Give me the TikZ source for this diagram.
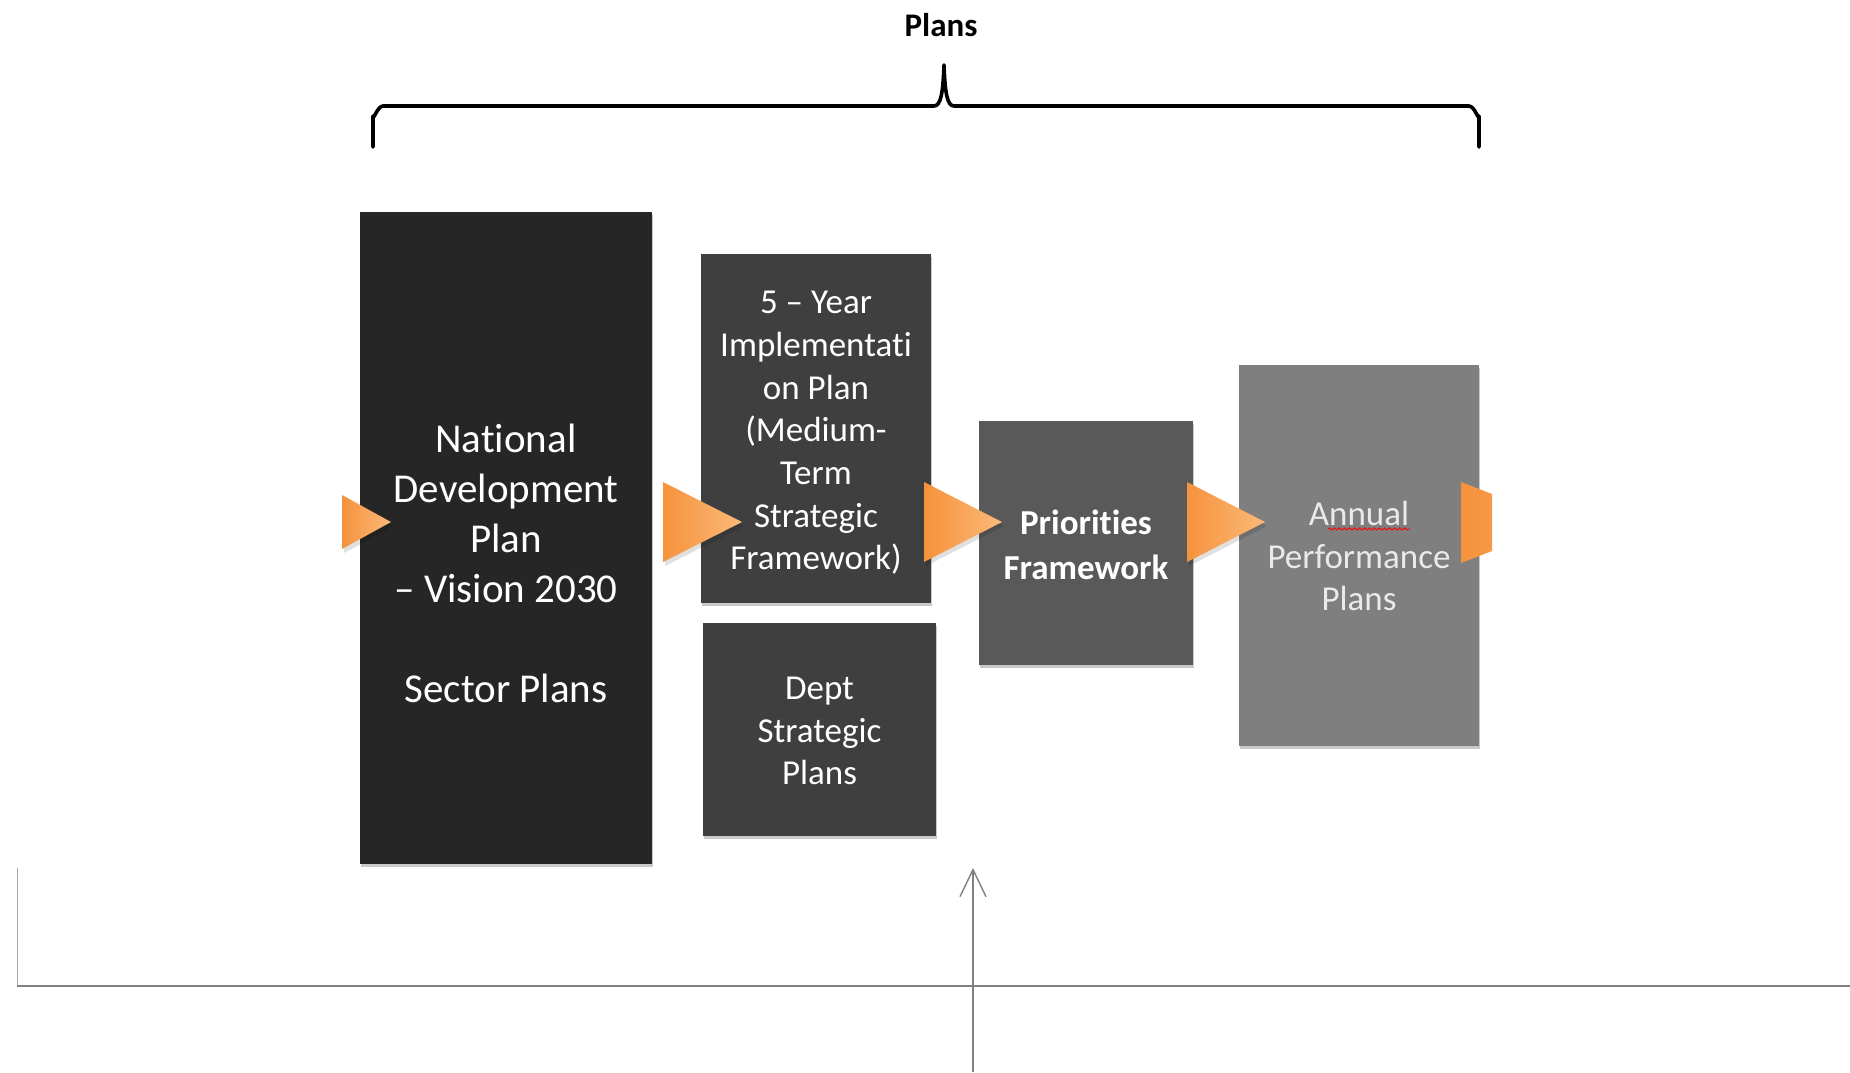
\documentclass[tikz,border=0pt]{standalone}
\usepackage{fontspec}
\setmainfont{Carlito}[Ligatures=NoCommon,RawFeature=-liga]
\usetikzlibrary{arrows.meta,shadows,decorations.pathmorphing}
\definecolor{ndpc}{HTML}{262626}
\definecolor{midc}{HTML}{3F3F3F}
\definecolor{prioc}{HTML}{595959}
\definecolor{annc}{HTML}{7F7F7F}
\definecolor{orA}{RGB}{246,146,60}
\definecolor{orB}{RGB}{251,186,122}
\definecolor{linec}{HTML}{808080}
\definecolor{lighttxt}{HTML}{EAEAEA}
\begin{document}
\begin{tikzpicture}[x=1pt,y=-1pt,
  box/.style={draw=none,inner sep=0pt,outer sep=0pt,
    drop shadow={shadow xshift=1pt,shadow yshift=-3pt,opacity=0.35,fill=black!60}},
  txt/.style={align=center,inner sep=0pt,text=white},
  bigtxt/.style={txt,font=\fontsize{41}{50}\selectfont},
  midtxt/.style={txt,font=\fontsize{35}{42.7}\selectfont},
  chev/.style={left color=orA,right color=orB},
  chevshadow/.style={fill=black,opacity=0.12}
]
\useasboundingbox (0,0) rectangle (1850,1072);
\fill[white] (0,0) rectangle (1850,1072);

% title and brace
\node[inner sep=0pt,font=\fontsize{33}{40}\selectfont\bfseries] (title) at (941,25) {Plans};
\draw[line width=3.6pt,line cap=round,line join=round]
  (373,147) -- (373,116) to[out=-90,in=180] (383,106) -- (934,106)
  .. controls (941,106) and (943,92) .. (944,65)
  .. controls (945,92) and (947,106) .. (954,106)
  -- (1469,106) to[out=0,in=-90] (1479,116) -- (1479,147);

% boxes
\node[box,fill=ndpc,minimum width=292pt,minimum height=652pt] (ndp) at (506,538) {};
\node[box,fill=midc,minimum width=230pt,minimum height=349pt] (five) at (816,428.5) {};
\node[box,fill=midc,minimum width=233pt,minimum height=213pt] (dept) at (819.5,729.5) {};
\node[box,fill=prioc,minimum width=214pt,minimum height=244pt] (prio) at (1086,543) {};
\node[box,fill=annc,minimum width=240pt,minimum height=381pt] (ann) at (1359,555.5) {};

% texts
\node[bigtxt] (ndpt) at (506,563) {National\\Development\\Plan\\– Vision 2030\\[50pt]Sector Plans};
\node[midtxt] (fivet) at (816,433) {5 – Year\\Implementati\\on Plan\\(Medium-\\Term\\Strategic\\Framework)};
\node[midtxt] (deptt) at (819.5,731) {Dept\\Strategic\\Plans};
\node[midtxt,font=\fontsize{35}{45}\selectfont\bfseries] (priot) at (1086,545) {Priorities\\Framework};
\node[midtxt,text=lighttxt] (annt) at (1359,556) {Annual\\Performance\\Plans};
\draw[red,line width=0.9pt,decorate,decoration={snake,amplitude=1.1pt,segment length=5pt}]
  (1328,529) -- (1410,529);

% chevrons
\fill[chevshadow] (344,499) -- (394,526) -- (344,553) -- cycle;
\shade[chev] (342,495) -- (391,522) -- (342,549) -- cycle;
\fill[chevshadow] (665,486) -- (744,526) -- (665,566) -- cycle;
\shade[chev] (663,482) -- (742,522) -- (663,562) -- cycle;
\fill[chevshadow] (926,486) -- (1004,526) -- (926,566) -- cycle;
\shade[chev] (924,482) -- (1002,522) -- (924,562) -- cycle;
\fill[chevshadow] (1189,486) -- (1267,526) -- (1189,566) -- cycle;
\shade[chev] (1187,482) -- (1265,522) -- (1187,562) -- cycle;
\shade[left color=orA,right color=orA!85!orB] (1461,482) -- (1492,494) -- (1492,551) -- (1461,563) -- cycle;

% bottom lines
\coordinate (lt) at (17,868);
\coordinate (lb) at (17,986);
\coordinate (rr) at (1850,986);
\coordinate (ab) at (973,1072);
\coordinate (at) at (973,868);
\draw[linec!70,line width=1pt] (lt) -- (lb);
\draw[linec,line width=2.2pt] (lb) -- (rr);
\draw[linec,line width=1.4pt,-{Straight Barb[length=27pt,width=26pt,line width=1.4pt]}] (ab) -- (at);
\end{tikzpicture}
\end{document}
